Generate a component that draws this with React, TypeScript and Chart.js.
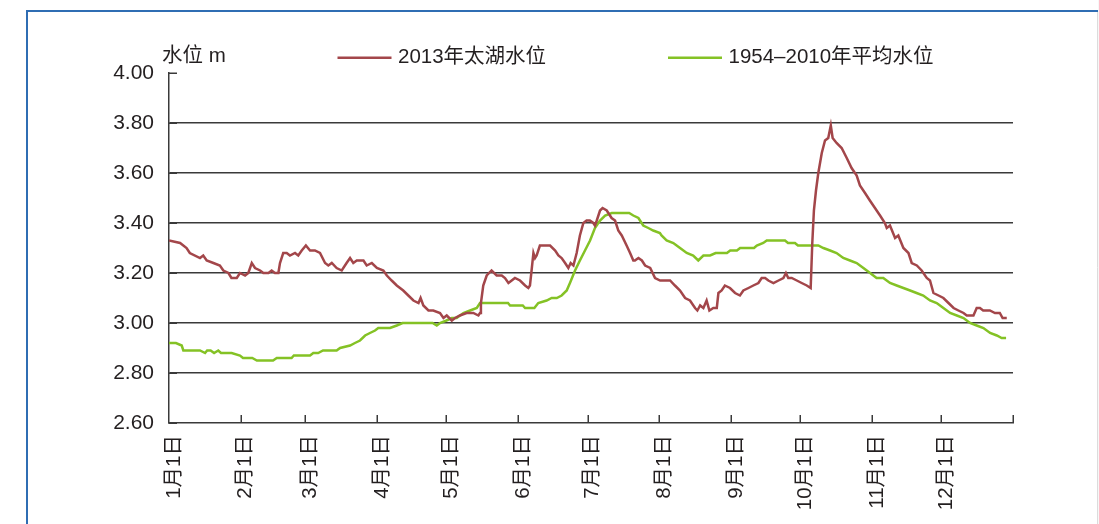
import React, { useEffect, useRef } from 'react';
import { Chart, registerables } from 'chart.js';

Chart.register(...registerables);

const FONT = "'Liberation Sans', 'Noto Sans CJK SC', sans-serif";
const TEXT_COLOR = '#231f20';
const AXIS_COLOR = '#3a3a3a';

const monthLabels = ['1月1日', '2月1日', '3月1日', '4月1日', '5月1日', '6月1日', '7月1日', '8月1日', '9月1日', '10月1日', '11月1日', '12月1日'];
const monthStartDays = [0, 31, 59, 90, 120, 151, 181, 212, 243, 273, 304, 334];
const yearEndDay = 365;

const yMin = 2.6;
const yMax = 4.0;
const yStep = 0.2;
const yAxisTitle = '水位 m';

const seriesNames = ['2013年太湖水位', '1954–2010年平均水位'];
const seriesColors = ['#a3464a', '#84c225'];

// 2013 Taihu water level (day of year, metres)
const level2013Days = [
  0, 4.8, 7.6, 9, 13.4, 14.8, 16.3, 19.2, 22, 23.5, 25.7, 27, 29.3, 30.7, 32.9, 34.3, 35.8, 37.2, 39.4, 40.8,
  43, 44.4, 45.8, 47.3, 48, 49.4, 50.9, 52.3, 54.5, 55.9, 57.4, 59.2, 61, 63.1, 65.3, 67.5, 68.9, 70.4, 72.5, 74.7,
  76.8, 78.3, 79.7, 81.2, 84.1, 85.5, 87.7, 89.9, 92.7, 94.2, 96.3, 98.5, 101.3, 103.5, 105.7, 107.9, 108.8, 110, 112.2, 114.3,
  117.2, 118.7, 120.1, 122.3, 123.7, 125.8, 128.7, 131.6, 133.8, 134.5, 134.9, 135.9, 137.4, 139.5, 141.7, 143.9, 145.3, 146.8, 148.2, 149.6,
  151.8, 154, 155.4, 156.1, 156.8, 157.6, 158.3, 159, 160.4, 162.6, 164.8, 167, 168.4, 169.8, 171.3, 172.7, 173.7, 174.9, 176.3, 177.7,
  179.2, 180.6, 182, 183.5, 184.2, 185, 186.4, 187.5, 189.3, 191.4, 192.9, 194.3, 195.8, 197.9, 199.4, 200.8, 201.5, 203, 204.5, 205.9,
  208.1, 210.2, 212.4, 214.5, 216.7, 218.8, 221, 223.2, 225.3, 227.5, 228.5, 229.7, 231.1, 232.5, 233.7, 235.4, 236.9, 237.6, 239, 240.4,
  242.6, 244.8, 246.9, 248.4, 250.6, 252.7, 254.9, 256.3, 257.8, 259.2, 261.4, 263.6, 265.7, 266.8, 267.8, 269.3, 271.5, 273.6, 275.8, 277.5,
  278.2, 278.9, 279.8, 280.8, 282.3, 283.7, 285.1, 286.2, 287, 288.7, 290.9, 293.1, 295.2, 297.4, 298.8, 301, 303.1, 305.3, 307.5, 309.6,
  310.4, 311.8, 314, 315.4, 317.6, 319.8, 321.2, 323.4, 325.5, 327.7, 329.1, 330.6, 332.8, 334.9, 337.1, 339.3, 341.4, 343.6, 345, 347.9,
  349.3, 350.7, 352.1, 355, 357.2, 359.3, 360.5, 362.3,
];
const level2013Values = [
  3.33, 3.32, 3.30, 3.28, 3.26, 3.27, 3.25, 3.24, 3.23, 3.21, 3.20, 3.18, 3.18, 3.20, 3.19, 3.20, 3.24, 3.22, 3.21, 3.20,
  3.20, 3.21, 3.20, 3.20, 3.24, 3.28, 3.28, 3.27, 3.28, 3.27, 3.29, 3.31, 3.29, 3.29, 3.28, 3.24, 3.23, 3.24, 3.22, 3.21,
  3.24, 3.26, 3.24, 3.25, 3.25, 3.23, 3.24, 3.22, 3.21, 3.19, 3.17, 3.15, 3.13, 3.11, 3.09, 3.08, 3.10, 3.07, 3.05, 3.05,
  3.04, 3.02, 3.03, 3.01, 3.02, 3.03, 3.04, 3.04, 3.03, 3.04, 3.08, 3.15, 3.19, 3.21, 3.19, 3.19, 3.18, 3.16, 3.17, 3.18,
  3.17, 3.15, 3.14, 3.15, 3.21, 3.28, 3.26, 3.27, 3.31, 3.31, 3.31, 3.29, 3.27, 3.26, 3.24, 3.22, 3.24, 3.23, 3.28, 3.35,
  3.40, 3.41, 3.41, 3.40, 3.39, 3.41, 3.45, 3.46, 3.45, 3.42, 3.41, 3.37, 3.35, 3.31, 3.28, 3.25, 3.25, 3.26, 3.25, 3.23,
  3.22, 3.18, 3.17, 3.17, 3.17, 3.15, 3.13, 3.10, 3.09, 3.06, 3.05, 3.07, 3.06, 3.09, 3.05, 3.06, 3.06, 3.12, 3.13, 3.15,
  3.14, 3.12, 3.11, 3.13, 3.14, 3.15, 3.16, 3.18, 3.18, 3.17, 3.16, 3.17, 3.18, 3.20, 3.18, 3.18, 3.17, 3.16, 3.15, 3.14,
  3.32, 3.45, 3.53, 3.60, 3.68, 3.73, 3.74, 3.79, 3.74, 3.72, 3.70, 3.66, 3.62, 3.59, 3.55, 3.52, 3.49, 3.46, 3.43, 3.40,
  3.38, 3.39, 3.34, 3.35, 3.30, 3.28, 3.24, 3.23, 3.21, 3.18, 3.17, 3.12, 3.11, 3.10, 3.08, 3.06, 3.05, 3.04, 3.03, 3.03,
  3.06, 3.06, 3.05, 3.05, 3.04, 3.04, 3.02, 3.02,
];

// 1954-2010 mean water level (day of year, metres)
const levelMeanDays = [
  0, 3, 5.5, 6.2, 13.4, 15.6, 16.5, 18, 19.5, 21.3, 22.5, 27.1, 30.7, 32, 36, 38, 45, 46.6, 53, 54,
  61, 62.4, 64.5, 66.6, 72.5, 74, 78.3, 80.4, 82.6, 84.8, 86.9, 89.1, 90.5, 95.6, 98.5, 101, 114, 115.8, 117.2, 120,
  122.3, 124.4, 127.3, 130.2, 133.1, 134.5, 146.6, 147.5, 153, 154, 158, 159.7, 163.3, 165.5, 167.7, 169.8, 172, 173.4, 175.6, 177.7,
  179.9, 182.1, 184.2, 186.4, 188.6, 191.5, 199, 200.8, 203, 205.1, 207.3, 209.4, 212.3, 213, 215.2, 218.1, 221, 223.9, 226.7, 228.9,
  231.1, 234, 236.4, 241.3, 242.7, 245.6, 247, 253, 254.2, 257, 258.5, 266.4, 267.7, 270.7, 272, 280.8, 283, 285.9, 288.7, 291.6,
  294.5, 297.4, 300.3, 303.2, 306, 308.9, 311.8, 314.7, 317.6, 320.5, 323.3, 326.2, 329.1, 332, 334.9, 337.8, 340.7, 343.6, 346.4, 349.3,
  352.2, 355.1, 358, 360.1, 362,
];
const levelMeanValues = [
  2.92, 2.92, 2.91, 2.89, 2.89, 2.88, 2.89, 2.89, 2.88, 2.89, 2.88, 2.88, 2.87, 2.86, 2.86, 2.85, 2.85, 2.86, 2.86, 2.87,
  2.87, 2.88, 2.88, 2.89, 2.89, 2.90, 2.91, 2.92, 2.93, 2.95, 2.96, 2.97, 2.98, 2.98, 2.99, 3.00, 3.00, 2.99, 3.00, 3.01,
  3.02, 3.02, 3.04, 3.05, 3.06, 3.08, 3.08, 3.07, 3.07, 3.06, 3.06, 3.08, 3.09, 3.10, 3.10, 3.11, 3.13, 3.16, 3.21, 3.25,
  3.29, 3.33, 3.38, 3.41, 3.43, 3.44, 3.44, 3.43, 3.42, 3.39, 3.38, 3.37, 3.36, 3.35, 3.33, 3.32, 3.30, 3.28, 3.27, 3.25,
  3.27, 3.27, 3.28, 3.28, 3.29, 3.29, 3.30, 3.30, 3.31, 3.32, 3.33, 3.33, 3.32, 3.32, 3.31, 3.31, 3.30, 3.29, 3.28, 3.26,
  3.25, 3.24, 3.22, 3.20, 3.18, 3.18, 3.16, 3.15, 3.14, 3.13, 3.12, 3.11, 3.09, 3.08, 3.06, 3.04, 3.03, 3.02, 3.00, 2.99,
  2.98, 2.96, 2.95, 2.94, 2.94,
];

const toPoints = (days: number[], vals: number[]) => days.map((d, i) => ({ x: d, y: vals[i] }));

const decorPlugin = {
  id: 'decor',
  beforeDraw(chart: any) {
    const { ctx, width, height } = chart;
    ctx.save();
    ctx.fillStyle = '#ffffff';
    ctx.fillRect(0, 0, width, height);
    ctx.fillStyle = '#f7f7f7';
    ctx.fillRect(1098, 0, width - 1098, height);
    ctx.strokeStyle = '#dcdcdc';
    ctx.lineWidth = 1;
    ctx.beginPath();
    ctx.moveTo(1097.5, 11);
    ctx.lineTo(1097.5, height);
    ctx.stroke();
    ctx.strokeStyle = '#2f6db3';
    ctx.lineWidth = 2;
    ctx.beginPath();
    ctx.moveTo(27, height);
    ctx.lineTo(27, 11);
    ctx.lineTo(1098, 11);
    ctx.stroke();
    ctx.restore();
  },
  afterDraw(chart: any) {
    const { ctx, chartArea, scales } = chart;
    const xs = scales.x;
    const ys = scales.y;
    ctx.save();
    ctx.strokeStyle = AXIS_COLOR;
    ctx.lineWidth = 1.5;
    ctx.beginPath();
    ys.ticks.forEach((t: any) => {
      const py = Math.round(ys.getPixelForValue(t.value)) + 0.25;
      ctx.moveTo(chartArea.left, py);
      ctx.lineTo(chartArea.left + 8, py);
    });
    xs.ticks.forEach((t: any) => {
      if (t.value === 0) return;
      const px = Math.round(xs.getPixelForValue(t.value)) + 0.25;
      ctx.moveTo(px, chartArea.bottom);
      ctx.lineTo(px, chartArea.bottom - 8);
    });
    ctx.stroke();

    // y axis title
    ctx.fillStyle = TEXT_COLOR;
    ctx.textBaseline = 'middle';
    ctx.textAlign = 'left';
    ctx.font = `20.5px ${FONT}`;
    ctx.fillText(yAxisTitle, 162, 56);

    // legend
    const legendX = [337.5, 668];
    const legendY = 57.7;
    ctx.font = `20.5px ${FONT}`;
    chart.data.datasets.forEach((ds: any, i: number) => {
      const lx = legendX[i];
      ctx.strokeStyle = ds.borderColor;
      ctx.lineWidth = 2.5;
      ctx.beginPath();
      ctx.moveTo(lx, legendY);
      ctx.lineTo(lx + 54, legendY);
      ctx.stroke();
      ctx.fillStyle = TEXT_COLOR;
      ctx.fillText(ds.label, lx + 60.5, legendY);
    });
    ctx.restore();
  },
};

export default function App() {
  const canvasRef = useRef<HTMLCanvasElement | null>(null);

  useEffect(() => {
    const canvas = canvasRef.current;
    if (!canvas) return;
    Chart.defaults.font.family = FONT;
    const chart = new Chart(canvas, {
      type: 'line',
      data: {
        datasets: [
          {
            label: seriesNames[0],
            data: toPoints(level2013Days, level2013Values),
            borderColor: seriesColors[0],
            borderWidth: 2.5,
            pointRadius: 0,
            tension: 0,
            fill: false,
          },
          {
            label: seriesNames[1],
            data: toPoints(levelMeanDays, levelMeanValues),
            borderColor: seriesColors[1],
            borderWidth: 2.5,
            pointRadius: 0,
            tension: 0,
            fill: false,
          },
        ],
      },
      options: {
        responsive: false,
        animation: false,
        events: [],
        layout: { padding: { left: 0, top: 73, right: 86, bottom: 0 } },
        plugins: {
          legend: { display: false },
          tooltip: { enabled: false },
          title: { display: false },
        },
        scales: {
          x: {
            type: 'linear',
            min: 0,
            max: yearEndDay,
            afterBuildTicks: (axis: any) => {
              axis.ticks = [...monthStartDays, yearEndDay].map((v) => ({ value: v }));
            },
            afterFit: (scale: any) => {
              scale.height = 101;
            },
            ticks: {
              autoSkip: false,
              minRotation: 90,
              maxRotation: 90,
              padding: 12,
              labelOffset: 5,
              color: TEXT_COLOR,
              font: { size: 20.5, family: FONT },
              callback: (value: any) => {
                const idx = monthStartDays.indexOf(Number(value));
                return idx >= 0 ? monthLabels[idx] : '';
              },
            },
            grid: { display: true, drawOnChartArea: false, drawTicks: false },
            border: { display: true, color: AXIS_COLOR, width: 1.5 },
          },
          y: {
            type: 'linear',
            min: yMin,
            max: yMax,
            afterFit: (scale: any) => {
              scale.width = 169;
            },
            ticks: {
              stepSize: yStep,
              padding: 15,
              color: TEXT_COLOR,
              font: { size: 21, family: FONT },
              callback: (value: any) => Number(value).toFixed(2),
            },
            grid: {
              drawTicks: false,
              lineWidth: 1.5,
              color: (ctx: any) => {
                const v = ctx.tick ? ctx.tick.value : 0;
                if (Math.abs(v - yMin) < 1e-6 || Math.abs(v - yMax) < 1e-6) return 'rgba(0,0,0,0)';
                return AXIS_COLOR;
              },
            },
            border: { display: true, color: AXIS_COLOR, width: 1.5 },
          },
        },
      },
      plugins: [decorPlugin],
    });
    return () => chart.destroy();
  }, []);

  return (
    <div style={{ position: 'absolute', left: 0, top: 0, width: 1099, height: 524, overflow: 'hidden' }}>
      <canvas ref={canvasRef} width={1099} height={524} style={{ display: 'block', width: 1099, height: 524 }} />
    </div>
  );
}
